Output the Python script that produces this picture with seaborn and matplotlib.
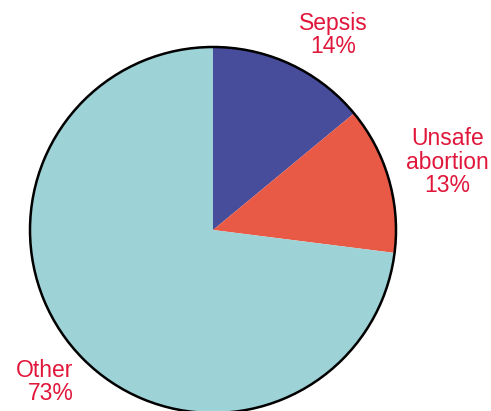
import matplotlib
matplotlib.use("Agg")
import matplotlib.pyplot as plt
import seaborn as sns

sns.set_style("white")
plt.rcParams['font.family'] = ['Liberation Sans', 'DejaVu Sans']

categories = ["Sepsis", "Unsafe\nabortion", "Other"]
values = [14, 13, 73]
colors = ["#474C9B", "#E85A45", "#9DD2D6"]
label_text = [f"{c}\n{v}%" for c, v in zip(categories, values)]
label_pos = [(0.656, 1.065), (1.28, 0.37), (-0.92, -0.83)]
label_align = ["center", "center", "right"]

fig = plt.figure(figsize=(4.91, 4.11), dpi=100)
ax = fig.add_axes([0, 0, 1, 1])
ax.pie(values, colors=colors, startangle=90, counterclock=False,
       wedgeprops=dict(linewidth=0), center=(0, 0), radius=1)
# outer outline
ax.pie([sum(values)], colors=["none"], startangle=90, counterclock=False,
       wedgeprops=dict(linewidth=1.8, edgecolor="black", fill=False), radius=1)
for t, (x, y), ma in zip(label_text, label_pos, label_align):
    ax.text(x, y, t, ha="center", va="center", color="#E0173B", fontsize=16.5,
            linespacing=1.02, multialignment=ma)
ax.set_xlim(-213 / 183, (491 - 213) / 183)
ax.set_ylim(-181 / 183, 230 / 183)
ax.set_aspect("auto")
ax.axis("off")
fig.savefig("out.png", dpi=100)
